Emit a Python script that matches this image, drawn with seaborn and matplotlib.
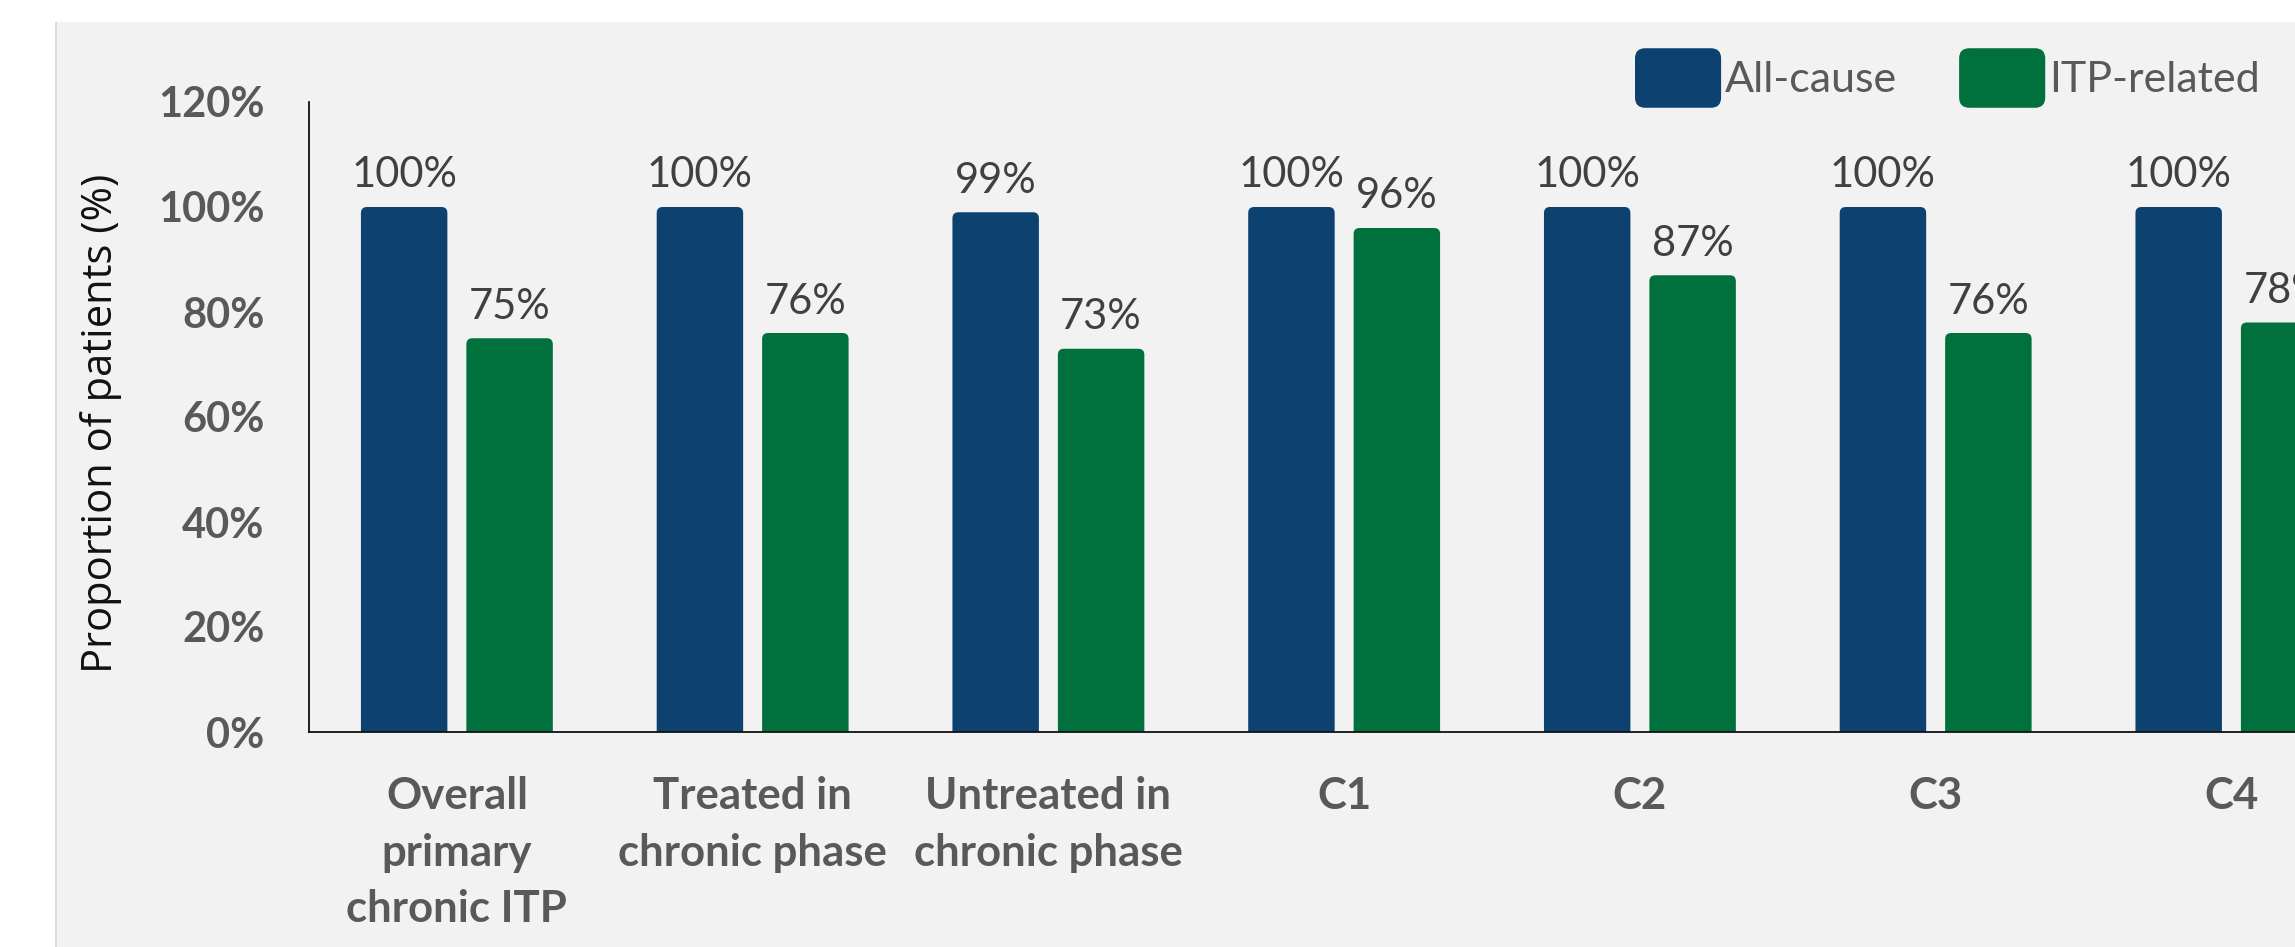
import matplotlib
matplotlib.use("Agg")
import matplotlib.pyplot as plt
import seaborn as sns
import pandas as pd
from matplotlib.patches import Rectangle, FancyBboxPatch, Patch
from matplotlib.legend_handler import HandlerPatch

categories = ["Overall\nprimary\nchronic ITP", "Treated in\nchronic phase",
              "Untreated in\nchronic phase", "C1", "C2", "C3", "C4"]
series_names = ["All-cause", "ITP-related"]
all_cause = [100, 100, 99, 100, 100, 100, 100]
itp_related = [75, 76, 73, 96, 87, 76, 78]
yticks = [0, 20, 40, 60, 80, 100, 120]
ytick_labels = ["0%", "20%", "40%", "60%", "80%", "100%", "120%"]

colors = ["#0D4170", "#00703C"]
BG = "#F2F2F2"

df = pd.DataFrame({
    "category": categories * 2,
    "series": [series_names[0]] * len(categories) + [series_names[1]] * len(categories),
    "value": all_cause + itp_related,
})

sns.set_theme(style="white")
plt.rcParams["font.family"] = ["Lato", "DejaVu Sans"]

W, H = 2295, 947
fig = plt.figure(figsize=(W / 100, H / 100), dpi=100, facecolor="white")
fig.patches.append(Rectangle((56 / W, 0), 1, (H - 22) / H, transform=fig.transFigure,
                             facecolor=BG, edgecolor="none", zorder=-10))
fig.patches.append(Rectangle((55 / W, 0), 1.5 / W, (H - 22) / H, transform=fig.transFigure,
                             facecolor="#DADADA", edgecolor="none", zorder=-9))

ax = fig.add_axes([309 / W, 215 / H, 1 - 309 / W, 630 / H])
ax.set_facecolor("none")

sns.barplot(data=df, x="category", y="value", hue="series", order=categories,
            hue_order=series_names, palette=colors, width=0.713, gap=0.18,
            saturation=1, legend=False, ax=ax, edgecolor="none")

for cont in ax.containers:
    vals = [f"{int(round(b.get_height()))}%" for b in cont]
    ax.bar_label(cont, labels=vals, padding=9, fontsize=30, color="#404040",
                 family=["Lato", "DejaVu Sans"])

ax.set_ylim(0, 120)
ax.set_xlim(-0.5, 6.215)

# round the top corners of bars
fig.canvas.draw()
px_x = (ax.get_xlim()[1] - ax.get_xlim()[0]) / ax.bbox.width
px_y = (ax.get_ylim()[1] - ax.get_ylim()[0]) / ax.bbox.height
r_px = 6
bars = list(ax.patches)
for b in bars:
    x, y, w, h = b.get_x(), b.get_y(), b.get_width(), b.get_height()
    fc = b.get_facecolor()
    b.remove()
    fb = FancyBboxPatch((x, y - r_px * px_y), w, h + r_px * px_y,
                        boxstyle=f"round,pad=0,rounding_size={r_px * px_x}",
                        mutation_aspect=px_y / px_x, facecolor=fc, edgecolor="none",
                        zorder=2, clip_on=True)
    ax.add_patch(fb)

ax.set_yticks(yticks)
ax.set_yticklabels(ytick_labels)
ax.tick_params(axis="y", length=0, pad=32, labelsize=30, labelcolor="#595959")
ax.tick_params(axis="x", length=0, pad=32, labelsize=31.5, labelcolor="#595959")
for lab in ax.get_yticklabels():
    lab.set_fontweight("bold")
for lab in ax.get_xticklabels():
    lab.set_fontweight("bold")
    lab.set_linespacing(1.5)
    lab.set_multialignment("center")

ax.set_xlabel("")
ax.set_ylabel("Proportion of patients (%)", fontsize=30, color="#111111",
              family=["Open Sans", "DejaVu Sans"])
ax.yaxis.set_label_coords((122 - 309) / (W - 309), 0.49)

for s in ["top", "right"]:
    ax.spines[s].set_visible(False)
for s in ["left", "bottom"]:
    ax.spines[s].set_color("#111111")
    ax.spines[s].set_linewidth(1.3)


class RoundHandler(HandlerPatch):
    def create_artists(self, legend, orig_handle, xdescent, ydescent, width, height,
                       fontsize, trans):
        p = FancyBboxPatch((-xdescent, -ydescent), width, height,
                           boxstyle=f"round,pad=0,rounding_size={0.17 * height}",
                           facecolor=orig_handle.get_facecolor(), edgecolor="none",
                           transform=trans)
        return [p]


handles = [Patch(facecolor=c) for c in colors]
leg = fig.legend(handles, series_names, loc="center left",
                 bbox_to_anchor=(1635 / W, 1 - 78 / H), ncol=2, frameon=False,
                 fontsize=31, handlelength=2.0, handleheight=1.75, handletextpad=0.08,
                 columnspacing=1.45, borderpad=0, borderaxespad=0,
                 handler_map={Patch: RoundHandler()})
for t in leg.get_texts():
    t.set_color("#595959")

fig.savefig("out.png", dpi=100, facecolor="white")
